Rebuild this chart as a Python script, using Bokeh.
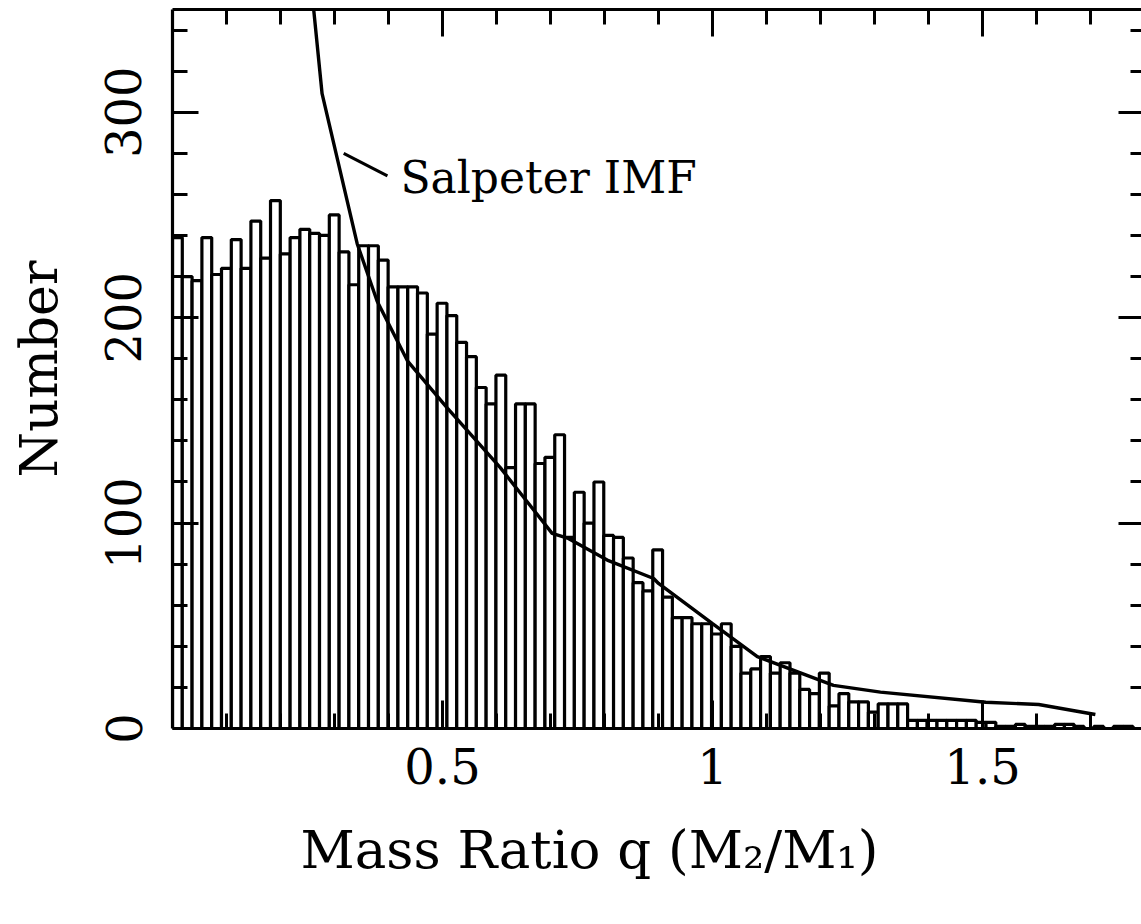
import math
from bokeh.plotting import figure
from bokeh.models import LinearAxis, FixedTicker, Range1d, ColumnDataSource, CustomJSTickFormatter, Title
from bokeh.core.properties import value
from bokeh.embed import file_html
from bokeh.resources import INLINE

# ---------------- data ----------------
bin_width = 0.01815
counts = [239, 220, 218, 239, 221, 224, 238, 224, 247, 229,
          257, 231, 239, 243, 241, 240, 250, 232, 216, 235,
          235, 228, 215, 215, 215, 212, 192, 207, 201, 188,
          181, 166, 158, 172, 127, 158, 158, 129, 132, 143,
          93, 115, 100, 120, 94, 93, 83, 71, 67, 87,
          64, 54, 54, 51, 51, 46, 51, 40, 27, 29,
          35, 27, 32, 27, 19, 17, 27, 11, 17, 13,
          13, 8, 12, 12, 12, 4, 4, 4, 4, 4,
          4, 4, 3, 3, 1, 1, 2, 1, 1, 1,
          2, 2, 1, 0, 1, 0, 1, 1]

imf_q = [0.255, 0.277, 0.342, 0.379, 0.435, 0.509, 0.570, 0.607, 0.655, 0.703,
         0.733, 0.805, 0.891, 0.900, 1.000, 1.083, 1.224, 1.311, 1.506, 1.604, 1.709]
imf_n = [367, 309, 236, 208, 179, 156, 138, 127, 111, 95,
         92.5, 82, 73, 70.6, 51, 35, 21, 17.7, 12.8, 11.7, 6.8]

x_major = [0.5, 1.0, 1.5]
x_minor = [0.1, 0.2, 0.3, 0.4, 0.6, 0.7, 0.8, 0.9, 1.1, 1.2, 1.3, 1.4, 1.6, 1.7]
y_major = [0, 100, 200, 300]
y_minor = [20, 40, 60, 80, 120, 140, 160, 180, 220, 240, 260, 280, 320, 340]

x_label = "Mass Ratio q (M\u2082/M\u2081)"
y_label = "Number"
imf_label = "Salpeter IMF"
imf_label_x = [0.422]
imf_label_y = [268]
pointer_x0, pointer_y0, pointer_x1, pointer_y1 = [0.317], [280], [0.398], [269]

FONT = "DejaVu Serif"

# ---------------- figure ----------------
p = figure(width=1141, height=924, output_backend="svg", toolbar_location=None,
           x_range=Range1d(0, 1.7944), y_range=Range1d(0, 350),
           min_border_left=172, min_border_right=0, min_border_top=9,
           min_border_bottom=196)
p.outline_line_color = None
p.grid.visible = False
p.background_fill_color = "white"
p.border_fill_color = "white"

src = ColumnDataSource(dict(x=[(i + 0.5) * bin_width for i in range(len(counts))],
                            top=counts))
p.vbar(x="x", top="top", bottom=0, width=bin_width, source=src,
       fill_color="white", line_color="black", line_width=3.2)
p.line(imf_q, imf_n, line_color="black", line_width=3.4)
p.segment(x0=pointer_x0, y0=pointer_y0, x1=pointer_x1, y1=pointer_y1,
          line_color="black", line_width=3)
p.text(x=imf_label_x, y=imf_label_y, text=[imf_label], text_font=value(FONT),
       text_font_size="44px", text_baseline="alphabetic", text_align="left",
       text_color="black")


def style_axis(ax, major, minor, mj, mn, line=True):
    ax.ticker = FixedTicker(ticks=major, minor_ticks=minor)
    ax.axis_line_width = 3.2
    ax.axis_line_color = "black" if line else None
    ax.major_tick_line_width = 3
    ax.minor_tick_line_width = 3
    ax.major_tick_in = mj
    ax.major_tick_out = 0
    ax.minor_tick_in = mn
    ax.minor_tick_out = 0
    ax.major_label_text_font = FONT
    ax.major_label_text_color = "black"
    ax.axis_label_text_font = FONT
    ax.axis_label_text_font_style = "normal"
    ax.axis_label_text_color = "black"


def blank_labels(ax):
    ax.formatter = CustomJSTickFormatter(code="return ''")
    ax.major_label_text_font_size = "0px"
    ax.major_label_standoff = 0


xb = p.xaxis[0]
style_axis(xb, x_major, x_minor, 28, 15)
xb.major_label_text_font_size = "48px"
xb.major_label_standoff = 19

xt_title = Title(text=x_label, align="left", offset=128, standoff=60,
                 text_font=FONT, text_font_size="53px", text_font_style="normal",
                 text_color="black")
p.add_layout(xt_title, "below")

yl = p.yaxis[0]
style_axis(yl, y_major, y_minor, 26, 15)
yl.axis_label = y_label
yl.major_label_orientation = "parallel"
yl.major_label_text_font_size = "48px"
yl.axis_label_text_font_size = "52px"
yl.major_label_standoff = 31
yl.axis_label_standoff = 34

xt = LinearAxis()
style_axis(xt, x_major, x_minor, 27, 15)
blank_labels(xt)
p.add_layout(xt, "above")

yr = LinearAxis()
style_axis(yr, y_major, y_minor, 23, 11, line=False)
blank_labels(yr)
p.add_layout(yr, "right")

open("out.html", "w").write(file_html(p, INLINE))
